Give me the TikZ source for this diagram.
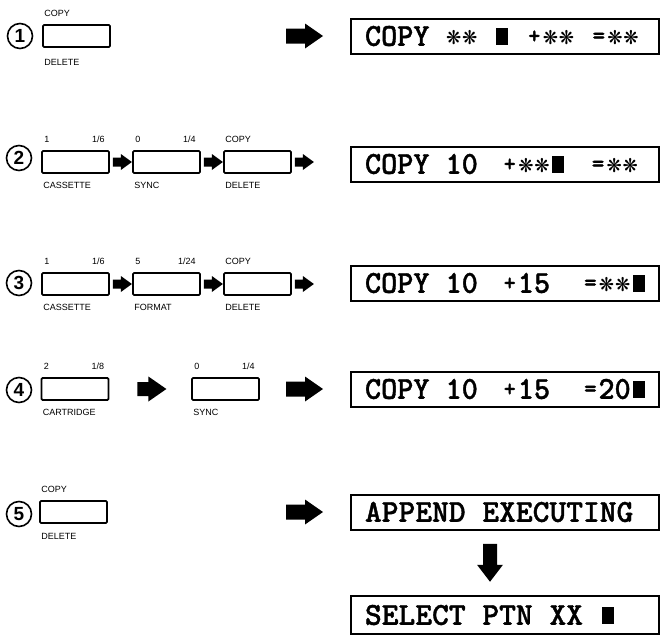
\documentclass[tikz,border=0pt]{standalone}
\usepackage{fontspec}
\usepackage{graphicx}
\usetikzlibrary{calc}
\newfontfamily\labfont{Liberation Sans}
\newfontfamily\dvs{DejaVu Sans}
\newfontfamily\lcdfont[FakeBold=1.2]{lmmonolt10-bold.otf}
\newcommand\lcd{\fontsize{32}{32}\selectfont\lcdfont}
\newcommand\gap{\hspace{0.525em}}
\newcommand\sx{\makebox[0.525em]{\raisebox{1.5pt}{\dvs\fontsize{19}{19}\selectfont ❋}}}
\newcommand\blk{\makebox[0.525em]{\rule[1pt]{12pt}{17pt}}}
\newcommand\pl{\makebox[0.525em]{\raisebox{2.5pt}{\fontsize{24}{24}\selectfont +}}}
\newcommand\eq{\makebox[0.525em]{\raisebox{2.5pt}{\fontsize{25}{25}\selectfont =}}}
\tikzset{
  keybox/.style={draw, line width=1.8pt, rounded corners=1.2pt, minimum width=67pt, minimum height=22pt, inner sep=0pt},
  lab/.style={font=\labfont\fontsize{9}{9}\selectfont, inner sep=0pt},
  num/.style={circle, draw, line width=1.6pt, minimum size=25pt, inner sep=0pt, font=\labfont\bfseries\fontsize{19}{19}\selectfont},
  disp/.style={draw, line width=2pt, minimum height=35pt, inner xsep=14pt, inner ysep=0pt, text height=19.6pt, text depth=0pt},
  bigarr/.pic={\fill (0,-7.5)--(19,-7.5)--(19,-12.5)--(37,0)--(19,12.5)--(19,7.5)--(0,7.5)--cycle;},
  midarr/.pic={\fill (0,-7)--(11,-7)--(11,-12.5)--(29,0)--(11,12.5)--(11,7)--(0,7)--cycle;},
  smallarr/.pic={\fill (0,-4.5)--(8,-4.5)--(8,-8)--(19,0)--(8,8)--(8,4.5)--(0,4.5)--cycle;},
  downarr/.pic={\fill (-7,0)--(7,0)--(7,21)--(13,21)--(0,38)--(-13,21)--(-7,21)--cycle;}
}
\newcommand\toplabels[3]{%
  \node[lab, anchor=south west] at ($(#1.north west)+(3,-7)$) {#2};
  \node[lab, anchor=south east] at ($(#1.north east)+(-5,-7)$) {#3};}
\newcommand\botlabel[2]{%
  \node[lab, anchor=north west] at ($(#1.south west)+(2,8)$) {#2};}
\newcommand\dtext[1]{\makebox[280pt][l]{\lcd\scalebox{0.96}[1]{#1}}}
\begin{document}
\begin{tikzpicture}[x=1pt,y=-1pt]
\fill[white] (0,0) rectangle (662,637);
\useasboundingbox (0,0) rectangle (662,637);

% Row 1
\node[num] (c1) at (20,36) {1};
\node[keybox] (k1) at (76.5,36) {};
\node[lab, anchor=south west] at ($(k1.north west)+(2,-7)$) {COPY};
\node[lab, anchor=north west] at ($(k1.south west)+(2,11)$) {DELETE};
\node[disp] (d1) at (505,36) {\dtext{COPY\gap\sx\sx\gap\blk\gap\pl\sx\sx\gap\eq\sx\sx}};
\pic at ($(d1.west)+(-64,0)$) {bigarr};

% Row 2
\node[num] (c2) at (19,158) {2};
\node[keybox] (k21) at (75.5,162) {};
\node[keybox] (k22) at (166.5,162) {};
\node[keybox] (k23) at (257.5,162) {};
\toplabels{k21}{1}{1/6}\botlabel{k21}{CASSETTE}
\toplabels{k22}{0}{1/4}\botlabel{k22}{SYNC}
\node[lab, anchor=south west] at ($(k23.north west)+(2,-7)$) {COPY};
\botlabel{k23}{DELETE}
\pic at ($(k21.east)+(3,0)$) {smallarr};
\pic at ($(k22.east)+(3,0)$) {smallarr};
\pic at ($(k23.east)+(3,0)$) {smallarr};
\node[disp] (d2) at (505,164) {\dtext{COPY\gap10\gap\hspace{8pt}\pl\sx\sx\blk\hspace{8pt}\gap\eq\sx\sx}};

% Row 3
\node[num] (c3) at (19,283) {3};
\node[keybox] (k31) at (75.5,284) {};
\node[keybox] (k32) at (166.5,284) {};
\node[keybox] (k33) at (257.5,284) {};
\toplabels{k31}{1}{1/6}\botlabel{k31}{CASSETTE}
\toplabels{k32}{5}{1/24}\botlabel{k32}{FORMAT}
\node[lab, anchor=south west] at ($(k33.north west)+(2,-7)$) {COPY};
\botlabel{k33}{DELETE}
\pic at ($(k31.east)+(3,0)$) {smallarr};
\pic at ($(k32.east)+(3,0)$) {smallarr};
\pic at ($(k33.east)+(3,0)$) {smallarr};
\node[disp] (d3) at (505,283) {\dtext{COPY\gap10\gap\hspace{8pt}\pl15\gap\gap\eq\sx\sx\blk}};

% Row 4
\node[num] (c4) at (19,390) {4};
\node[keybox] (k41) at (75,389) {};
\node[keybox] (k42) at (225.5,389) {};
\toplabels{k41}{2}{1/8}\botlabel{k41}{CARTRIDGE}
\toplabels{k42}{0}{1/4}\botlabel{k42}{SYNC}
\pic at ($(k41.east)+(28,0)$) {midarr};
\node[disp] (d4) at (505,389) {\dtext{COPY\gap10\gap\hspace{8pt}\pl15\gap\gap\eq20\blk}};
\pic at ($(d4.west)+(-64,0)$) {bigarr};

% Row 5
\node[num] (c5) at (19,514) {5};
\node[keybox] (k5) at (73.5,512) {};
\node[lab, anchor=south west] at ($(k5.north west)+(2,-7)$) {COPY};
\node[lab, anchor=north west] at ($(k5.south west)+(2,9)$) {DELETE};
\node[disp] (d5) at (505,512) {\dtext{\scalebox{1.04}[1]{APPEND\gap EXECUTING}}};
\pic at ($(d5.west)+(-64,0)$) {bigarr};

% Row 6
\node[disp, minimum height=38pt] (d6) at (505,615) {\dtext{\scalebox{1.04}[1]{SELECT\gap PTN\gap XX\gap\blk}}};
\coordinate (mid) at ($(d5.south)!0.5!(d6.north)$);
\pic at ($(mid)+(-15,-19)$) {downarr};
\end{tikzpicture}
\end{document}
